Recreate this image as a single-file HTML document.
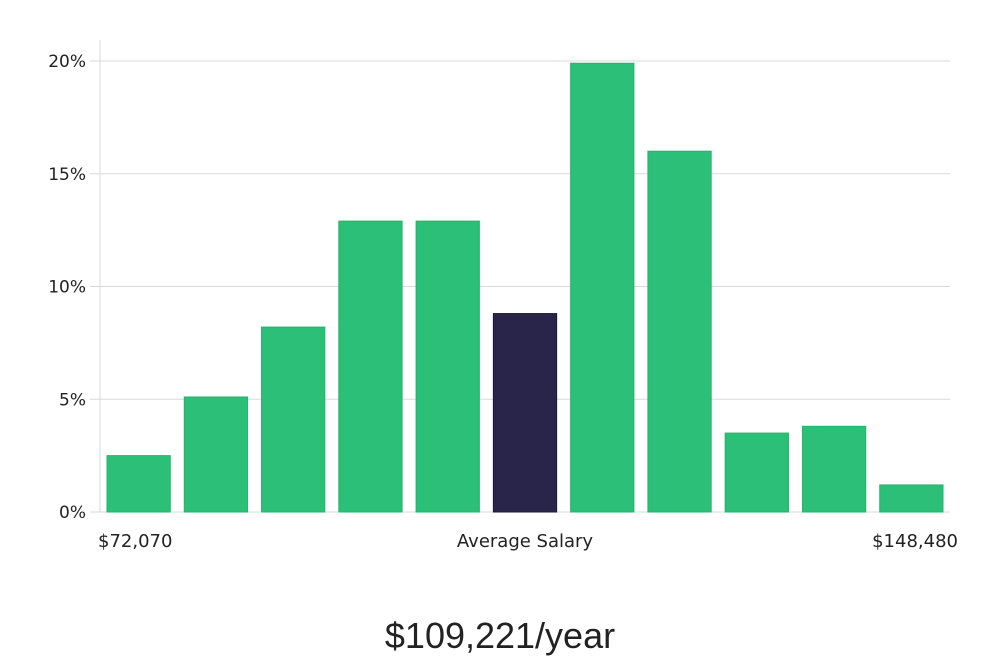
<!DOCTYPE html>
<html><head><meta charset="utf-8"><style>
body{margin:0;background:#fff;}
svg{display:block;font-family:"DejaVu Sans","Liberation Sans",sans-serif;}
</style></head><body>
<svg id="chart" width="1000" height="660" viewBox="0 0 1000 660"></svg>
<script>
const categories=["b1","b2","b3","b4","b5","b6","b7","b8","b9","b10","b11"];
const values=[2.5,5.1,8.2,12.9,12.9,8.8,19.9,16.0,3.5,3.8,1.2];
const highlightIndex=5;
const yTicks=[0,5,10,15,20];
const yTickLabels=["0%","5%","10%","15%","20%"];
const NS="http://www.w3.org/2000/svg";
const svg=document.getElementById('chart');
const x0=100,x1=950,yBase=512,yTop=61;
const y=v=>yBase-(v/20)*(yBase-yTop);
const band=(x1-x0)/categories.length;
const xb=i=>x0+i*band;
function mk(t,a){const e=document.createElementNS(NS,t);for(const k in a)e.setAttribute(k,a[k]);svg.appendChild(e);return e;}
yTicks.forEach((t,i)=>{
 const g=mk('line',{x1:90,x2:x1,y1:y(t),y2:y(t),stroke:'#d9d9d9','stroke-width':1});
 
 
 const l=mk('text',{x:86,y:y(t)+6,'text-anchor':'end','font-size':17,fill:'#222'});
 l.textContent=yTickLabels[i];
 
 
});
const ax=mk('line',{x1:x0,x2:x0,y1:40,y2:yBase,stroke:'#d9d9d9','stroke-width':1});


values.forEach((v,i)=>{
 const r=mk('rect',{x:xb(i)+7,y:y(v),width:band-14,height:yBase-y(v),fill:i===highlightIndex?'#29244a':'#2bbf77',stroke:i===highlightIndex?'#1e1a3a':'#25b36d','stroke-width':1});
 
 
});
function txt(s,x,yy,anchor,size,name,extra){const t=mk('text',Object.assign({x:x,y:yy,'text-anchor':anchor,'font-size':size,fill:'#222'},extra||{}));t.textContent=s;return t;}
txt('$72,070',98,547,'start',18,'min-salary-label');
txt('Average Salary',525,547,'middle',18,'average-salary-label');
txt('$148,480',958,547,'end',18,'max-salary-label');
txt('$109,221/year',500,648,'middle',36,'average-salary-value',{'font-weight':'300','font-family':'"Liberation Sans",sans-serif'});
</script>
</body></html>
